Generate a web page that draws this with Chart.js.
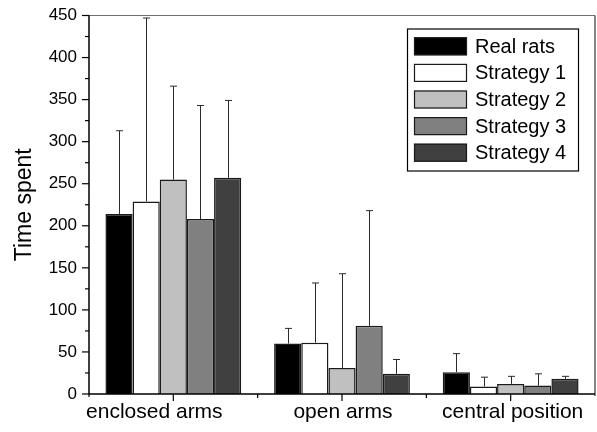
<!DOCTYPE html>
<html><head><meta charset="utf-8">
<script src="https://cdn.jsdelivr.net/npm/chart.js@4.4.0/dist/chart.umd.min.js"></script>
<style>html,body{margin:0;padding:0;background:#fff}canvas{display:block}</style>
</head><body>
<canvas id="c" width="597" height="432"></canvas>
<script>
const categories = ['enclosed arms', 'open arms', 'central position'];
const seriesNames = ['Real rats', 'Strategy 1', 'Strategy 2', 'Strategy 3', 'Strategy 4'];
const realRats = [214, 60, 26];
const strategy1 = [229, 61, 9];
const strategy2 = [255, 31, 12];
const strategy3 = [208, 81, 10];
const strategy4 = [257, 24, 18];
const realRatsSD = [99, 18, 22];
const strategy1SD = [218, 71, 11];
const strategy2SD = [111, 112, 9];
const strategy3SD = [135, 137, 14];
const strategy4SD = [92, 17, 3];
const yTicks = [0, 50, 100, 150, 200, 250, 300, 350, 400, 450];
const labelShift = [-19, 1, 2];

const values = [realRats, strategy1, strategy2, strategy3, strategy4];
const sds = [realRatsSD, strategy1SD, strategy2SD, strategy3SD, strategy4SD];
const fills = ['#000000', '#ffffff', '#c0c0c0', '#808080', '#404040'];
const FONT = "'Liberation Sans', Arial, sans-serif";

const datasets = seriesNames.map((n, i) => ({
  label: n, data: values[i], sd: sds[i],
  backgroundColor: fills[i], borderColor: '#1a1a1a', borderWidth: 1.5,
  borderSkipped: 'bottom', categoryPercentage: 0.805, barPercentage: 1.0
}));

const deco = {
  id: 'deco',
  afterDatasetsDraw(chart) {
    const ctx = chart.ctx, ca = chart.chartArea;
    const y = chart.scales.y, x = chart.scales.x;
    ctx.save();
    // error bars
    ctx.strokeStyle = '#2a2a2a'; ctx.lineWidth = 1;
    chart.data.datasets.forEach((ds, di) => {
      const meta = chart.getDatasetMeta(di);
      meta.data.forEach((bar, i) => {
        const px = Math.round(bar.x) + 0.5;
        const top = y.getPixelForValue(ds.data[i] + ds.sd[i]);
        ctx.beginPath();
        ctx.moveTo(px, bar.y); ctx.lineTo(px, top);
        ctx.moveTo(px - 3.5, top); ctx.lineTo(px + 3.5, top);
        ctx.stroke();
      });
    });
    // frame top and right
    ctx.strokeStyle = '#707070'; ctx.lineWidth = 1.2;
    ctx.beginPath(); ctx.moveTo(ca.left, ca.top); ctx.lineTo(ca.right, ca.top); ctx.stroke();
    ctx.strokeStyle = '#333'; ctx.beginPath(); ctx.moveTo(ca.right, ca.top); ctx.lineTo(ca.right, ca.bottom + 2); ctx.stroke();
    // axes
    ctx.strokeStyle = '#000'; ctx.lineWidth = 1.5;
    ctx.beginPath(); ctx.moveTo(ca.left, ca.top); ctx.lineTo(ca.left, ca.bottom); ctx.lineTo(ca.right, ca.bottom); ctx.stroke();
    // y ticks
    ctx.lineWidth = 1.2;
    for (let v = 0; v <= 450; v += 25) {
      const py = y.getPixelForValue(v);
      const len = (v % 50 === 0) ? 7 : 4;
      ctx.beginPath(); ctx.moveTo(ca.left - len, py); ctx.lineTo(ca.left, py); ctx.stroke();
    }
    // x ticks and labels
    const n = categories.length;
    ctx.font = '21px ' + FONT; ctx.fillStyle = '#000';
    ctx.textAlign = 'center'; ctx.textBaseline = 'alphabetic';
    for (let i = 0; i < n; i++) {
      const c = x.getPixelForValue(i);
      ctx.beginPath(); ctx.moveTo(c, ca.bottom); ctx.lineTo(c, ca.bottom + 7); ctx.stroke();
      if (i < n - 1) {
        const b = (c + x.getPixelForValue(i + 1)) / 2;
        ctx.beginPath(); ctx.moveTo(b, ca.bottom); ctx.lineTo(b, ca.bottom + 4); ctx.stroke();
      }
      ctx.fillText(categories[i], c + labelShift[i], ca.bottom + 24);
    }
    ctx.beginPath(); ctx.moveTo(ca.left, ca.bottom); ctx.lineTo(ca.left, ca.bottom + 3); ctx.stroke();
    // legend
    const lx = 407, ly = 28.5, lw = 171, lh = 142;
    ctx.fillStyle = '#fff'; ctx.fillRect(lx, ly, lw, lh);
    ctx.strokeStyle = '#000'; ctx.lineWidth = 1.2; ctx.strokeRect(lx + 0.5, ly + 0.5, lw, lh);
    ctx.font = '20px ' + FONT; ctx.textBaseline = 'middle'; ctx.textAlign = 'left';
    chart.data.datasets.forEach((ds, i) => {
      const cy = 46.3 + i * 26.6;
      ctx.fillStyle = ds.backgroundColor;
      ctx.fillRect(414, cy - 9, 53, 18);
      ctx.strokeStyle = '#1a1a1a'; ctx.lineWidth = 1.2;
      ctx.strokeRect(414.5, cy - 8.5, 52, 17);
      ctx.fillStyle = '#000';
      ctx.fillText(ds.label, 475, cy + 1);
    });
    ctx.restore();
  }
};

new Chart(document.getElementById('c'), {
  type: 'bar',
  data: { labels: categories, datasets },
  plugins: [deco],
  options: {
    responsive: false, animation: false,
    layout: { padding: { top: 15.5, right: 2, left: 0, bottom: 0 } },
    plugins: { legend: { display: false }, tooltip: { enabled: false } },
    scales: {
      x: {
        grid: { display: false, drawTicks: false }, border: { display: false },
        ticks: { display: false },
        afterFit(s) { s.height = 38; }
      },
      y: {
        min: 0, max: 450,
        grid: { display: false, drawTicks: false }, border: { display: false },
        ticks: { stepSize: 25, color: '#000', font: { family: FONT, size: 17, lineHeight: 1.0 }, padding: 12,
          callback: v => yTicks.includes(v) ? String(v) : '' },
        title: { display: true, text: 'Time spent', color: '#000', font: { family: FONT, size: 23 }, padding: { top: 11, bottom: 0 } },
        afterFit(s) { s.width = 89; s.paddingTop = 0; }
      }
    }
  }
});
</script>
</body></html>
